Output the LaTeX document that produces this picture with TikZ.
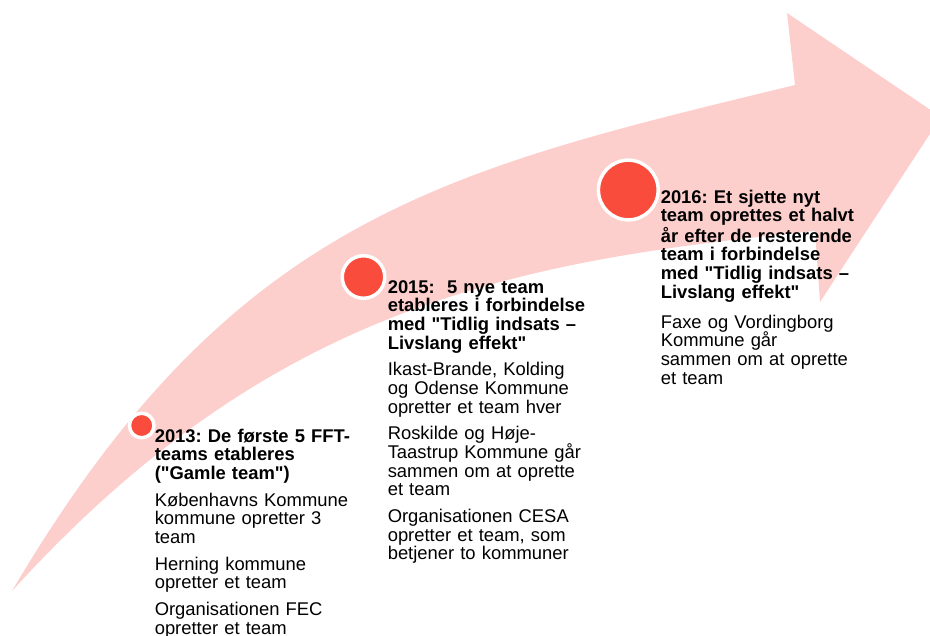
\documentclass[tikz,border=0pt]{standalone}
\usepackage{fontspec}
\setmainfont{Liberation Sans}
\definecolor{bandpink}{RGB}{252,207,204}
\definecolor{dotred}{RGB}{249,76,60}
\newcommand{\qt}{\textquotedbl}

\begin{document}
\begin{tikzpicture}[x=0.75pt,y=-0.75pt,
    dot/.style={circle,fill=dotred,draw=white,line width=2.6pt,inner sep=0pt},
    entry/.style={anchor=base west,inner sep=0pt,text width=190pt,align=left,
      font=\fontsize{13.8}{14}\selectfont\frenchspacing}]
  \useasboundingbox (0,0) rectangle (930,635);
  \clip (0,0) rectangle (930,635);
  % curved arrow
  \fill[bandpink] (12,591) .. controls (232,217) and (445,170) .. (795,85)
    -- (787,13) -- (941,117) -- (820,302) -- (815,231)
    .. controls (515,261) and (272,305) .. cycle;
  % milestones
  \foreach \n/\x/\y/\d in {13/141.7/425.5/18.4, 15/363.5/277/31.9, 16/628.3/190/44.8}
    \node[dot,minimum size=\d pt] (dot\n) at (\x,\y) {};
  \node[entry] (txt13) at (154.5,442) {{\bfseries 2013: De første 5 FFT-\\teams etableres\\(\qt Gamle team\qt)}\\[6pt]
    Københavns Kommune\\kommune opretter 3\\team\\[6pt]
    Herning kommune\\opretter et team\\[6pt]
    Organisationen FEC\\opretter et team};
  \node[entry] (txt15) at (387.5,293) {{\bfseries 2015:~~5 nye team\\etableres i forbindelse\\med \qt Tidlig indsats --\\Livslang effekt\qt}\\[6pt]
    Ikast-Brande, Kolding\\og Odense Kommune\\opretter et team hver\\[6pt]
    Roskilde og Høje-\\Taastrup Kommune går\\sammen om at oprette\\et team\\[6pt]
    Organisationen CESA\\opretter et team, som\\betjener to kommuner};
  \node[entry] (txt16) at (660.5,203.3) {{\bfseries 2016: Et sjette nyt\\team oprettes et halvt\\år efter de resterende\\team i forbindelse\\med \qt Tidlig indsats --\\Livslang effekt\qt}\\[8.5pt]
    Faxe og Vordingborg\\Kommune går\\sammen om at oprette\\et team};
\end{tikzpicture}
\end{document}
